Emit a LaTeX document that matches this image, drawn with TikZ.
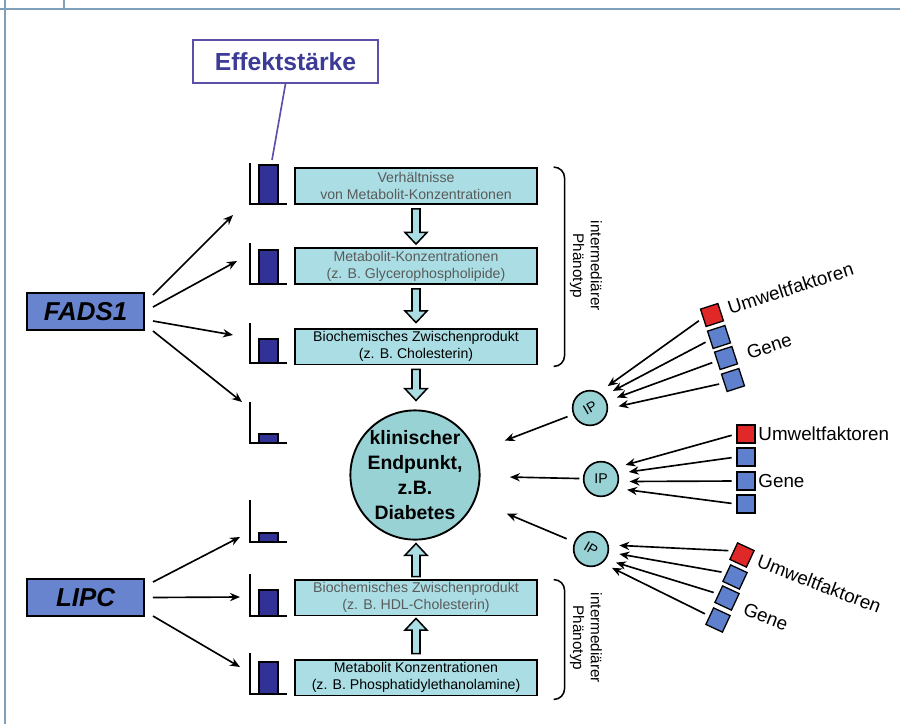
\documentclass[tikz,border=0pt]{standalone}
\usepackage{fontspec}
\setmainfont{Liberation Sans}
\usepackage{graphicx}
\usepackage{tikz}
\usetikzlibrary{arrows.meta,calc}
\usepackage{xcolor}

\definecolor{stagecyan}{RGB}{170,222,228}
\definecolor{stagegray}{RGB}{90,90,90}
\definecolor{endcyan}{RGB}{152,210,212}
\definecolor{genefill}{RGB}{104,132,206}
\definecolor{barblue}{RGB}{50,50,150}
\definecolor{envred}{RGB}{225,40,40}
\definecolor{geneblue}{RGB}{95,128,205}
\definecolor{framegray}{RGB}{127,160,184}
\definecolor{efftext}{RGB}{60,60,150}
\definecolor{effdraw}{RGB}{90,80,170}

% hollow block arrows between the stage boxes
\newcommand{\flowdown}[2]{%
  \draw[blockarr] let \p1=#1, \p2=#2 in
    (\x1-3.4pt,\y1) -- (\x1+3.4pt,\y1) -- (\x1+3.4pt,\y2+10pt) -- (\x1+9.4pt,\y2+10pt)
    -- (\x1,\y2) -- (\x1-9.4pt,\y2+10pt) -- (\x1-3.4pt,\y2+10pt) -- cycle;}
\newcommand{\flowup}[2]{%
  \draw[blockarr] let \p1=#1, \p2=#2 in
    (\x1-3.4pt,\y1) -- (\x1+3.4pt,\y1) -- (\x1+3.4pt,\y2-10pt) -- (\x1+9.4pt,\y2-10pt)
    -- (\x1,\y2) -- (\x1-9.4pt,\y2-10pt) -- (\x1-3.4pt,\y2-10pt) -- cycle;}

\begin{document}
\begin{tikzpicture}[x=0.85pt, y=-0.85pt,
  stage/.style={rectangle, draw=black, line width=1.6pt, fill=stagecyan,
    minimum width=205pt, minimum height=30.5pt, inner sep=0pt, align=center,
    text=stagegray, font=\fontsize{12}{14.5}\selectfont},
  stagekey/.style={stage, text=black},
  gene/.style={rectangle, draw=black, line width=1.6pt, fill=genefill,
    minimum width=99.5pt, minimum height=31.5pt, inner sep=0pt,
    font=\fontsize{22}{24}\selectfont\bfseries\itshape},
  effbox/.style={rectangle, draw=effdraw, line width=1.4pt, fill=white,
    minimum width=157pt, minimum height=36.5pt, inner sep=0pt, text=efftext,
    font=\fontsize{21}{24}\selectfont\bfseries},
  endpoint/.style={circle, draw=black, line width=1.6pt, fill=endcyan,
    minimum size=105pt, inner sep=0pt, align=center,
    font=\fontsize{16.5}{21}\selectfont\bfseries},
  ipnode/.style={circle, draw=black, line width=1.4pt, fill=endcyan,
    minimum size=29.5pt, inner sep=0pt, font=\fontsize{12}{13}\selectfont},
  envsq/.style={rectangle, draw=black, line width=1.1pt, fill=envred,
    minimum size=15.5pt, inner sep=0pt},
  genesq/.style={envsq, fill=geneblue},
  factor/.style={inner sep=1pt, font=\fontsize{16}{18}\selectfont},
  phen/.style={rotate=-90, align=center, font=\fontsize{13}{15}\selectfont},
  arr/.style={-{Stealth[length=8.5pt, width=7pt]}, line width=1.4pt},
  feed/.style={arr, shorten <=4pt, shorten >=9pt},
  blockarr/.style={draw=black, line width=1.3pt, fill=stagecyan},
  effline/.style={draw=effdraw, line width=1.4pt},
  axisline/.style={line width=1.7pt},
  brace/.style={line width=1.3pt, rounded corners=9pt},
  frameline/.style={draw=framegray, line width=1.6pt},
]
\useasboundingbox (0,0) rectangle (900,724);
\draw[frameline] (0,9) -- (900,9);
\draw[frameline] (5,0) -- (5,724);
\draw[frameline] (64,0) -- (64,9);

% effect size charts
\foreach \n/\yt/\yb/\yo in {1/163/165/204, 2/243/250/284, 3/323/339/363, 4/402/434/443,
    5/500/533/542, 6/574/590/616, 7/653/662/694} {
  \coordinate (ch\n) at (250,\yo);
  \filldraw[fill=barblue, draw=black, line width=1.1pt] (259,\yb) rectangle (278,\yo);
  \draw[axisline] (250,\yt) -- (250,\yo) -- (287,\yo);
}

\node[effbox] (eff) at (285.5,61.5) {Effektstärke};
\draw[effline] (eff.south) -- ($(ch1)+(22,-44)$);

\node[gene] (fads) at (85.5,311.5) {FADS1};
\node[gene] (lipc) at (85.5,597.5) {LIPC};

\node[stage] (vm) at (416,186) {Verhältnisse\\von Metabolit-Konzentrationen};
\node[stage] (mk) at (416,266) {Metabolit-Konzentrationen\\(z. B. Glycerophospholipide)};
\node[stagekey] (zp) at (416,346.5) {Biochemisches Zwischenprodukt\\(z. B. Cholesterin)};
\node[stage] (hdl) at (416,597.5) {Biochemisches Zwischenprodukt\\(z. B. HDL-Cholesterin)};
\node[stagekey] (pe) at (416,677.5) {Metabolit Konzentrationen\\(z. B. Phosphatidylethanolamine)};

\node[endpoint] (ep) at (415,475) {klinischer\\Endpunkt,\\z.B.\\Diabetes};

\flowdown{($(vm.south)+(0,4)$)}{($(mk.north)+(0,-3)$)}
\flowdown{($(mk.south)+(0,4)$)}{($(zp.north)+(0,-5)$)}
\flowdown{($(zp.south)+(0,4)$)}{($(ep.north)+(0,-9)$)}
\flowup{($(hdl.north)+(0,-2)$)}{($(ep.south)+(0,3)$)}
\flowup{($(pe.north)+(0,-5)$)}{($(hdl.south)+(0,2)$)}

% braces
\draw[brace] ($(vm.north east)+(16,0)$) -- ($(vm.north east)+(27,0)$)
  -- ($(zp.south east)+(27,1)$) -- ($(zp.south east)+(16,1)$);
\node[phen] (ph1) at (586,266) {intermediärer\\Phänotyp};
\draw[brace] ($(hdl.north east)+(16,1)$) -- ($(hdl.north east)+(27,1)$)
  -- ($(pe.south east)+(27,3)$) -- ($(pe.south east)+(16,3)$);
\node[phen] (ph2) at (586,638) {intermediärer\\Phänotyp};

\draw[arr] ($(fads.east)+(8,-16.5)$) -- ($(ch1)+(-17,11)$);
\draw[arr] ($(fads.east)+(8,-4.5)$) -- ($(ch2)+(-13,-23)$);
\draw[arr] ($(fads.east)+(8,9.5)$) -- ($(ch3)+(-17,-28)$);
\draw[arr] ($(fads.east)+(8,19.5)$) -- ($(ch4)+(-8,-41)$);
\draw[arr] ($(lipc.east)+(8,-15.5)$) -- ($(ch5)+(-10,-5)$);
\draw[arr] ($(lipc.east)+(8,0)$) -- ($(ch6)+(-10,-19)$);
\draw[arr] ($(lipc.east)+(8,18.5)$) -- ($(ch7)+(-10,-27)$);

% intermediate phenotypes
\node[ipnode] (ip1) at (590,408) {\rotatebox{30}{IP}};
\node[ipnode] (ip2) at (601,479) {IP};
\node[ipnode] (ip3) at (591,549) {\rotatebox{-30}{IP}};
\draw[arr, shorten <=5pt, shorten >=26pt] (ip1) -- (ep);
\draw[arr, shorten <=3pt, shorten >=25pt] (ip2) -- (ep);
\draw[arr, shorten <=7pt, shorten >=29pt] (ip3) -- (ep);

\node[envsq, rotate=18] (u1) at (712,315) {};
\node[genesq, rotate=18] (g1a) at (719,337) {};
\node[genesq, rotate=18] (g1b) at (726,358) {};
\node[genesq, rotate=18] (g1c) at (733,380) {};
\node[factor, rotate=18, anchor=west] (uw1) at (727,309) {Umweltfaktoren};
\node[factor, rotate=18, anchor=west] (ge1) at (746,354) {Gene};
\draw[feed] (u1.west) -- (ip1.60);
\draw[feed] (g1a.west) -- (ip1.42);
\draw[feed] (g1b.west) -- (ip1.22);
\draw[feed] (g1c.west) -- (ip1.-2);

\node[envsq] (u2) at (746,434) {};
\node[genesq] (g2a) at (746,457) {};
\node[genesq] (g2b) at (746,481) {};
\node[genesq] (g2c) at (746,504) {};
\node[factor, anchor=west] (uw2) at (757,434) {Umweltfaktoren};
\node[factor, anchor=west] (ge2) at (757,481) {Gene};
\draw[feed] (u2.west) -- (ip2.38);
\draw[feed] (g2a.west) -- (ip2.18);
\draw[feed] (g2b.west) -- (ip2.-8);
\draw[feed] (g2c.west) -- (ip2.-31);

\node[envsq, rotate=-25] (u3) at (742,555) {};
\node[genesq, rotate=-25] (g3a) at (735,577) {};
\node[genesq, rotate=-25] (g3b) at (727,598) {};
\node[genesq, rotate=-25] (g3c) at (718,620) {};
\node[factor, rotate=-21, anchor=west] (uw3) at (757,560) {Umweltfaktoren};
\node[factor, rotate=-21, anchor=west] (ge3) at (743,608) {Gene};
\draw[feed] (u3.west) -- (ip3.13);
\draw[feed] (g3a.west) -- (ip3.-10);
\draw[feed] (g3b.west) -- (ip3.-35);
\draw[feed] (g3c.west) -- (ip3.-51);
\end{tikzpicture}
\end{document}
